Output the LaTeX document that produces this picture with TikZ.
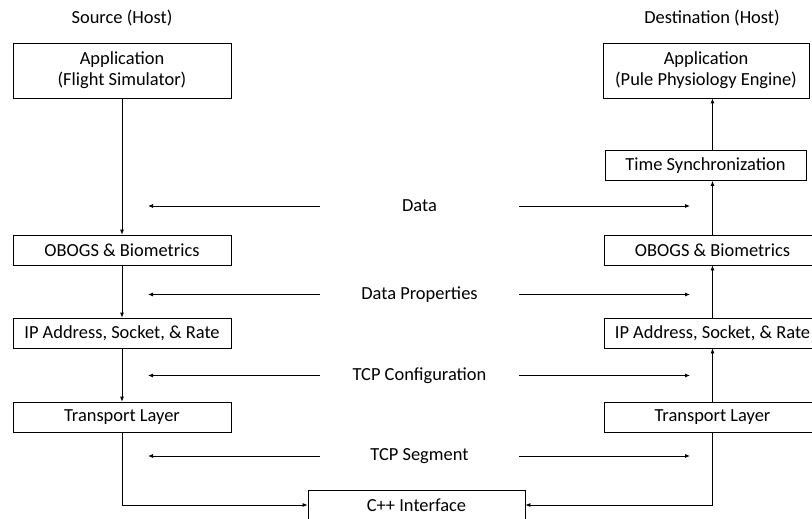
\documentclass[tikz,border=0pt]{standalone}
\usepackage{fontspec}
\setmainfont{Carlito}
\usepackage{tikz}
\usetikzlibrary{positioning, calc, arrows.meta}

\begin{document}
\begin{tikzpicture}[x=1bp, y=-1bp,
    font=\fontsize{18.5}{21}\selectfont,
    layerbox/.style={rectangle, draw, line width=0.8pt, inner sep=0pt, align=center, minimum height=30bp},
    wideleft/.style={layerbox, minimum width=218bp},
    wideright/.style={layerbox, minimum width=217bp},
    flow/.style={-{Latex[length=5bp, width=4bp]}, line width=0.8pt},
    msg/.style={inner sep=0pt, minimum width=199bp, minimum height=16bp}
]
    \useasboundingbox (0,0) rectangle (812,519);
    \clip (0,0) rectangle (812,519);

    % Hosts
    \node (srchost) at (122,18) {Source (Host)};
    \node (dsthost) at (712,18) {Destination (Host)};

    % Source stack
    \node[wideleft, minimum height=55bp] (srcapp) at (122,70.5) {Application\\(Flight Simulator)};
    \node[wideleft] (srcobogs) at (122,250) {OBOGS \& Biometrics};
    \node[wideleft] (srcip) at (122,333) {IP Address, Socket, \& Rate};
    \node[wideleft] (srctrans) at (122,417) {Transport Layer};

    % Destination stack
    \node[layerbox, minimum width=206bp, minimum height=55bp] (dstapp) at (706,70.5) {Application\\(Pule Physiology Engine)};
    \node[layerbox, minimum width=201bp] (dstsync) at (705.5,165.5) {Time Synchronization};
    \node[wideright] (dstobogs) at (712.5,250) {OBOGS \& Biometrics};
    \node[wideright] (dstip) at (712.5,333) {IP Address, Socket, \& Rate};
    \node[wideright] (dsttrans) at (712.5,417) {Transport Layer};

    % Interface
    \node[wideright] (cpp) at (416.5,505) {C++ Interface};

    % Source connections
    \draw[flow] (srcapp) -- (srcobogs);
    \draw[flow] (srcobogs) -- (srcip);
    \draw[flow] (srcip) -- (srctrans);
    \draw[flow] (srctrans.south) |- (cpp.west);

    % Destination connections
    \draw[flow] (dsttrans.south) |- (cpp.east);
    \draw[flow] (dsttrans) -- (dstip);
    \draw[flow] (dstip) -- (dstobogs);
    \draw[flow] (dstobogs.north) -- (dstobogs.north |- dstsync.south);
    \draw[flow] (dstobogs.north |- dstsync.north) -- (dstobogs.north |- dstapp.south);

    % Exchanged items
    \coordinate (leftend) at (148,0);
    \coordinate (rightend) at (690,0);
    \node[msg] (data) at (419.5,206) {Data};
    \node[msg] (props) at (419.5,294.5) {Data Properties};
    \node[msg] (tcpconf) at (419.5,375.5) {TCP Configuration};
    \node[msg] (tcpseg) at (419.5,456) {TCP Segment};

    \draw[flow] (data.west) -- (data.west -| leftend);
    \draw[flow] (data.east) -- (data.east -| rightend);
    \draw[flow] (props.west) -- (props.west -| leftend);
    \draw[flow] (props.east) -- (props.east -| rightend);
    \draw[flow] (tcpconf.west) -- (tcpconf.west -| leftend);
    \draw[flow] (tcpconf.east) -- (tcpconf.east -| rightend);
    \draw[flow] (tcpseg.west) -- (tcpseg.west -| leftend);
    \draw[flow] (tcpseg.east) -- (tcpseg.east -| rightend);
\end{tikzpicture}
\end{document}
